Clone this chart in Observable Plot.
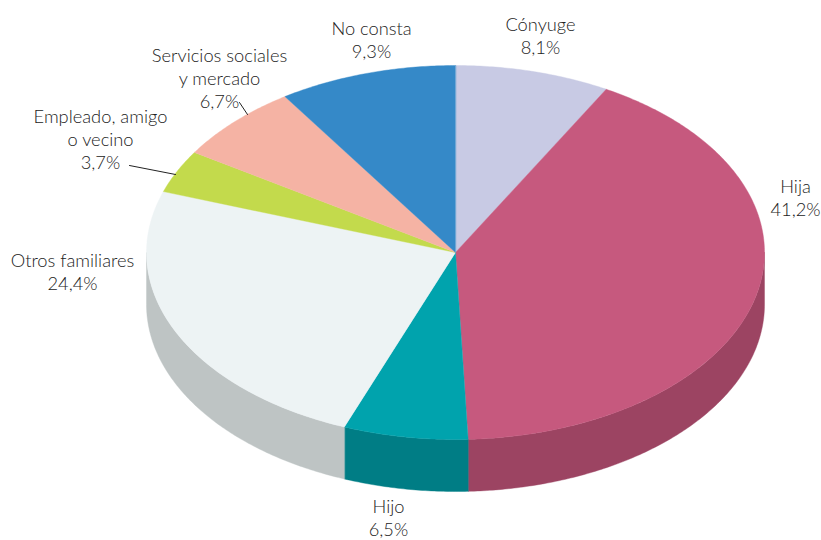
<!DOCTYPE html>
<html lang="es">
<head>
<meta charset="utf-8">
<script src="https://cdn.jsdelivr.net/npm/d3@7"></script>
<script src="https://cdn.jsdelivr.net/npm/@observablehq/plot@0.6"></script>
<style>
html,body{margin:0;padding:0;background:#fff}
svg{display:block}
</style>
</head>
<body>
<div id="chart"></div>
<script>
// Data, clockwise from twelve o'clock
const categories = ["Cónyuge", "Hija", "Hijo", "Otros familiares", "Empleado, amigo\no vecino", "Servicios sociales\ny mercado", "No consta"];
const shares = [8.1, 41.2, 6.5, 24.4, 3.7, 6.7, 9.3];

// Styles
const topColors = ["#c8cae4", "#c6597e", "#00a3ad", "#edf3f4", "#c3da4c", "#f5b3a4", "#3589c8"];
const sideColors = ["#a0a2b8", "#9c4462", "#007d85", "#bec4c4", "#9cae3c", "#c48f83", "#2a6da0"];

// Layout of the tilted pie and its annotations (plot units equal pixels)
const pie = {cx: 455, cy: 252, rx: 309, ry: 187, depth: 52};
const labelX = [540, 795, 388, 72, 100, 219, 371];
const labelY = [35, 197, 517, 271, 138, 77, 39];
const leaderLines = [
  [[239, 102], [247, 114]],
  [[129, 165], [175, 174]]
];

const total = d3.sum(shares);
const cumulative = d3.cumsum(shares);
const turn = v => (v / total) * 2 * Math.PI;
const rim = (a, dy = 0) => ({x: pie.cx + pie.rx * Math.sin(a), y: pie.cy - pie.ry * Math.cos(a) + dy});

const arc = (a0, a1, dy = 0) => {
  const n = Math.max(2, Math.ceil((a1 - a0) / 0.01));
  return d3.range(n + 1).map(i => rim(a0 + (a1 - a0) * i / n, dy));
};

const slices = shares.map((v, i) => ({
  name: categories[i],
  a0: turn(cumulative[i] - v),
  a1: turn(cumulative[i]),
  top: topColors[i],
  side: sideColors[i]
}));

const centre = {x: pie.cx, y: pie.cy};
const polygon = (pts, fill) => Plot.line(pts, {x: "x", y: "y", fill, stroke: fill, strokeWidth: 0.4, curve: "linear-closed"});

// Only the front half of the wall (3 to 9 o'clock) can be seen
const walls = slices.map(s => {
  const a0 = Math.max(s.a0, Math.PI / 2), a1 = Math.min(s.a1, 3 * Math.PI / 2);
  if (a1 <= a0) return null;
  return polygon([...arc(a0, a1), ...arc(a0, a1, pie.depth).reverse()], s.side);
}).filter(Boolean);

const faces = slices.map(s => polygon([centre, ...arc(s.a0, s.a1)], s.top));

const labels = categories.map((c, i) => ({
  text: c + "\n" + shares[i].toFixed(1).replace(".", ",") + "%",
  x: labelX[i],
  y: labelY[i]
}));

const chart = Plot.plot({
  width: 821,
  height: 540,
  margin: 0,
  x: {domain: [0, 821], range: [0, 821], axis: null},
  y: {domain: [0, 540], range: [0, 540], axis: null},
  style: {background: "#fff"},
  marks: [
    ...walls,
    ...faces,
    ...leaderLines.map(l => Plot.line(l.map(([x, y]) => ({x, y})), {x: "x", y: "y", stroke: "#222", strokeWidth: 1})),
    Plot.text(labels, {
      x: "x", y: "y", text: "text",
      fontFamily: "Lato, sans-serif",
      fontWeight: 300,
      fontSize: 18.3,
      lineHeight: 1.25,
      fill: "#222",
      textAnchor: "middle"
    })
  ]
});
document.getElementById("chart").append(chart);
</script>
</body>
</html>
